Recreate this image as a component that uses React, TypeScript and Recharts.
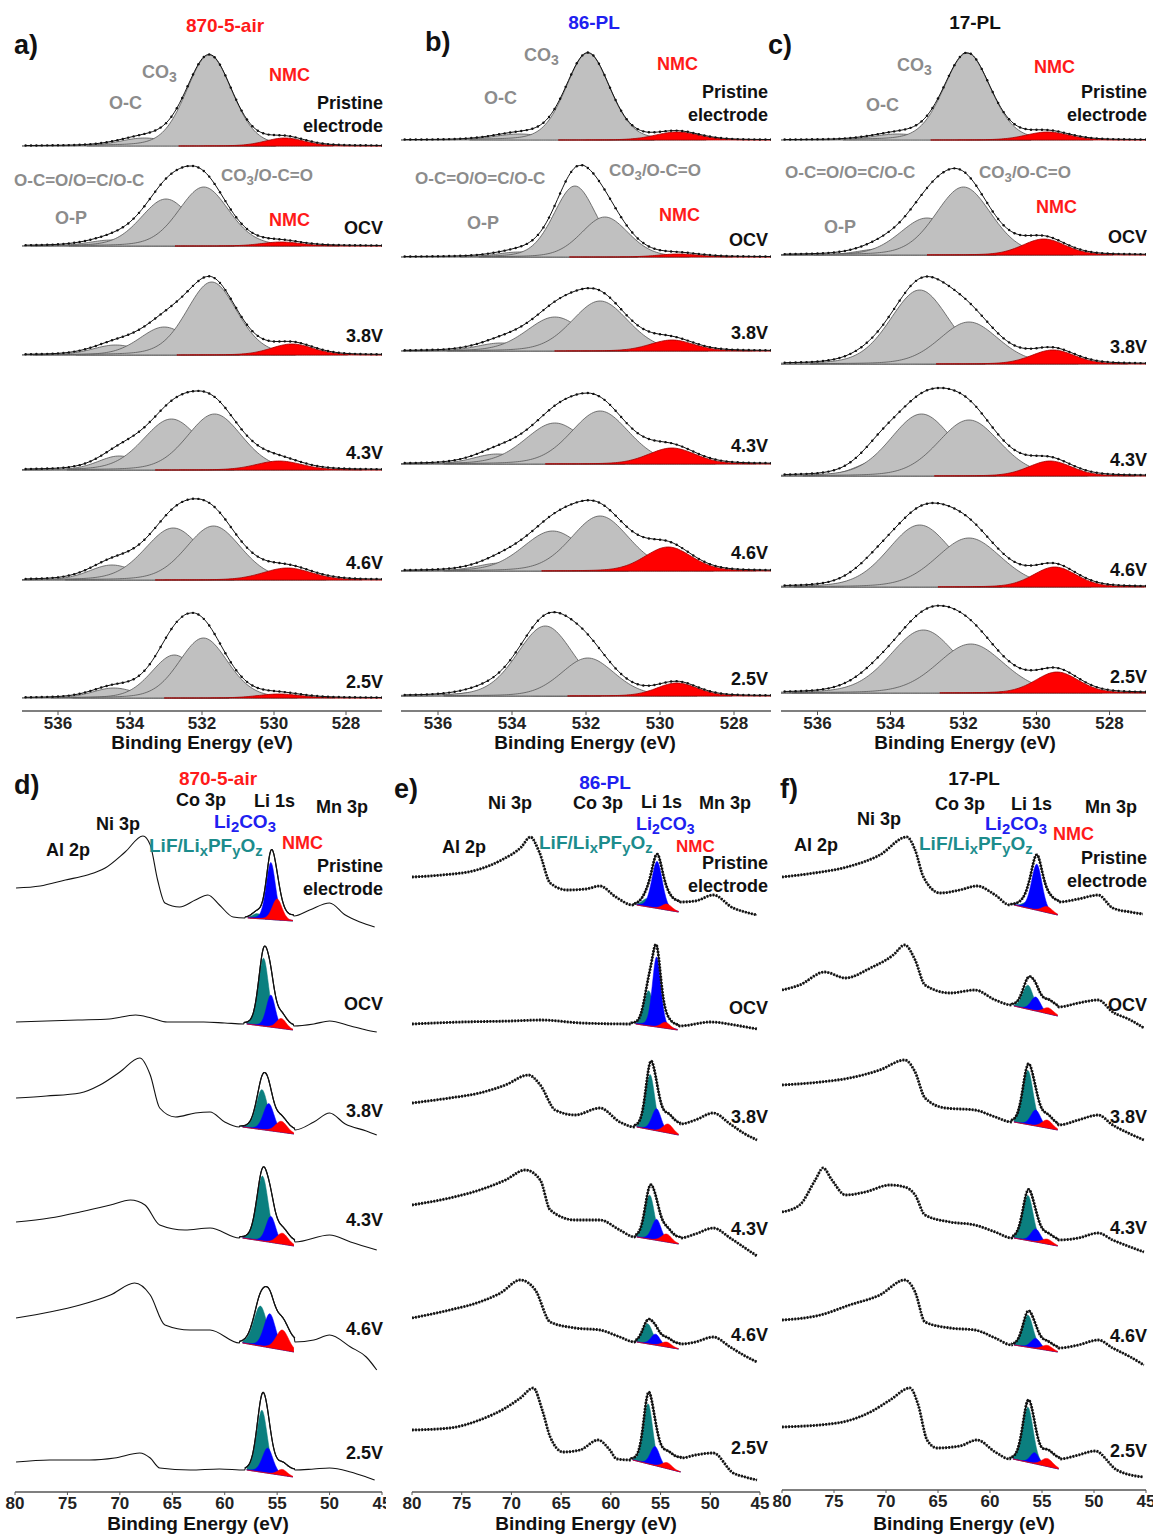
import React from 'react';
import { ComposedChart, Area, Line, XAxis, YAxis } from 'recharts';

const FONT = '"Liberation Sans", Arial, Helvetica, sans-serif';
const GREY = '#c0c0c0';
const RED = '#ff0000';
const TEAL = '#0b7f7f';
const BLUE = '#0000ff';
const TXT_GREY = '#8c8c8c';
const TXT_RED = '#ff1a1a';
const TXT_BLUE = '#2020f0';
const TXT_TEAL = '#1c8c8c';

// ---------------- O 1s (a–c) ----------------
const O1S_TICKS = [536, 534, 532, 530, 528];
const O1S_DOMAIN: [number, number] = [527, 537];
const STATE_LABELS = ['OCV', '3.8V', '4.3V', '4.6V', '2.5V'];

// component: [centre (eV), height, FWHM (eV), kind] kind g = grey, r = NMC
type Comp = [number, number, number, 'g' | 'r'];

const A_OFFSETS = [565, 465, 356, 241, 131, 13];
const A_COMPS: Comp[][] = [
  [[533.6, 8, 1.6, 'g'], [531.8, 91, 1.5, 'g'], [529.7, 8, 1.3, 'r']],
  [[534.5, 6, 1.5, 'g'], [533.0, 47, 1.65, 'g'], [531.95, 59, 1.65, 'g'], [529.8, 4, 1.3, 'r']],
  [[534.4, 10, 1.5, 'g'], [533.05, 28, 1.6, 'g'], [531.73, 73, 1.65, 'g'], [529.5, 11, 1.4, 'r']],
  [[534.3, 14, 1.4, 'g'], [532.85, 51, 1.85, 'g'], [531.65, 56, 1.8, 'g'], [529.86, 9, 1.5, 'r']],
  [[534.5, 15, 1.5, 'g'], [532.8, 52, 1.85, 'g'], [531.68, 54, 1.8, 'g'], [529.63, 12, 1.6, 'r']],
  [[534.45, 10, 1.4, 'g'], [532.77, 43, 1.5, 'g'], [531.96, 60, 1.6, 'g'], [529.86, 4, 1.4, 'r']],
];

const B_OFFSETS = [571, 454, 360, 247, 140, 15];
const B_COMPS: Comp[][] = [
  [[533.8, 6, 1.6, 'g'], [531.95, 87, 1.4, 'g'], [529.54, 8, 1.4, 'r']],
  [[533.8, 5, 1.4, 'g'], [532.3, 71, 1.35, 'g'], [531.49, 40, 1.5, 'g'], [529.5, 3, 1.3, 'r']],
  [[534.3, 8, 1.5, 'g'], [532.84, 34, 1.8, 'g'], [531.62, 50, 1.8, 'g'], [529.68, 11, 1.4, 'r']],
  [[534.4, 10, 1.5, 'g'], [532.84, 41, 1.9, 'g'], [531.62, 53, 1.85, 'g'], [529.68, 16, 1.5, 'r']],
  [[534.3, 8, 1.5, 'g'], [532.9, 40, 1.9, 'g'], [531.62, 55, 1.85, 'g'], [529.78, 24, 1.5, 'r']],
  [[534.8, 4, 1.4, 'g'], [533.1, 70, 1.8, 'g'], [531.95, 38, 1.7, 'g'], [529.54, 13, 1.3, 'r']],
];

const C_OFFSETS = [571, 456, 347, 235, 124, 18];
const C_COMPS: Comp[][] = [
  [[533.8, 6, 1.6, 'g'], [531.9, 87, 1.5, 'g'], [529.7, 8, 1.4, 'r']],
  [[534.3, 6, 1.4, 'g'], [533.0, 37, 1.75, 'g'], [532.0, 68, 1.8, 'g'], [529.8, 16, 1.4, 'r']],
  [[534.6, 4, 1.4, 'g'], [533.2, 74, 1.9, 'g'], [531.85, 42, 1.9, 'g'], [529.55, 14, 1.4, 'r']],
  [[534.3, 16, 1.4, 'g'], [533.15, 62, 2.0, 'g'], [531.85, 56, 2.0, 'g'], [529.63, 15, 1.4, 'r']],
  [[534.4, 12, 1.5, 'g'], [533.2, 62, 2.05, 'g'], [531.85, 49, 2.1, 'g'], [529.5, 20, 1.4, 'r']],
  [[534.4, 8, 1.5, 'g'], [533.1, 63, 2.15, 'g'], [531.8, 49, 2.15, 'g'], [529.44, 21, 1.4, 'r']],
];

// ---------------- Li 1s / TM 3p (d–f) ----------------
const LI_TICKS = [80, 75, 70, 65, 60, 55, 50, 45];
const LI_DOMAIN: [number, number] = [45, 80];

type Knot = [number, number]; // [BE, intensity]
type LiComp = [number, number, number]; // [centre, height, FWHM]; order: LiF/LixPFyOz, Li2CO3, NMC
type Base = [number, number, number, number]; // [BE left, I left, BE right, I right]

const D_TRACES: Knot[][] = [
  [[79.9, 604], [77.6, 606], [75.2, 612], [73.1, 617], [71.4, 624], [69.5, 640], [67.8, 656], [67.1, 647], [66.4, 612], [65.7, 589], [64.3, 585], [62.8, 592], [61.6, 597], [60.5, 587], [59.2, 575], [58.1, 574],
    [53.4, 576], [51.9, 582], [50.0, 589], [48.5, 577], [47.1, 570], [45.7, 565]],
  [[79.9, 470], [77, 471], [74, 472], [71, 473], [68.5, 477], [67, 474], [65.5, 470], [62, 470], [60, 469], [58.2, 468],
    [53.4, 466], [51.5, 468], [50, 471], [48, 466], [46.5, 462], [45.5, 460]],
  [[79.9, 394], [77, 396], [73.8, 399], [71.9, 407], [70, 420], [68.1, 434], [67.1, 417], [66.2, 384], [64.7, 375], [62.8, 379], [61.4, 380], [60, 370], [58.6, 365],
    [53.3, 362], [51.5, 370], [50, 379], [48.5, 368], [46.5, 361], [45.5, 357]],
  [[79.9, 270], [76.7, 274], [73.8, 280], [70.9, 287], [69, 292], [67.6, 287], [66.2, 267], [63.8, 262], [61.4, 264], [58.6, 254],
    [53.3, 250], [50, 257], [48, 250], [45.5, 242]],
  [[79.9, 174], [76.7, 180], [73.8, 187], [70.9, 197], [68.6, 209], [67.1, 197], [65.7, 167], [63.3, 162], [61.4, 162], [58.6, 149],
    [53.3, 150], [51.5, 152], [50, 157], [48, 145], [46.5, 135], [45.5, 122]],
  [[79.9, 30], [76.7, 32], [72.9, 32], [70.5, 34], [68.1, 39], [67.1, 34], [66.2, 24], [63.3, 22], [60.5, 23], [58.1, 22],
    [53.3, 22], [51.5, 23], [50, 24], [48, 20], [46.5, 15], [45.7, 12]],
];
const D_BASES: Base[] = [
  [57.8, 574, 53.5, 571], [57.9, 468, 53.5, 462], [58.3, 365, 53.4, 358],
  [58.3, 254, 53.4, 246], [58.3, 149, 53.4, 140], [57.9, 22, 53.5, 15],
];
const D_COMPS: LiComp[][] = [
  [[56.9, 5, 1.1], [55.6, 57, 1.05], [55.0, 21, 1.1]],
  [[56.3, 68, 1.15], [55.6, 32, 1.0], [54.6, 10, 1.1]],
  [[56.45, 40, 1.3], [55.8, 27, 1.2], [54.6, 11, 1.3]],
  [[56.4, 65, 1.3], [55.6, 26, 1.1], [54.5, 11, 1.3]],
  [[56.6, 40, 1.5], [55.7, 34, 1.3], [54.5, 20, 1.4]],
  [[56.45, 62, 1.2], [55.9, 25, 1.2], [54.5, 6, 1.1]],
];

const E_TRACES: Knot[][] = [
  [[80, 615], [77, 617], [73.5, 622], [71, 632], [69, 645], [68.1, 655], [67.2, 640], [66.1, 609], [64.4, 602], [62.5, 603], [61.1, 606], [59.5, 595], [57.8, 587],
    [53.0, 590], [51.5, 591], [49.7, 597], [47.7, 584], [46.5, 580], [45.3, 577]],
  [[80, 468], [75, 470], [70, 471], [67, 472], [63, 469], [58, 468],
    [53.1, 466], [50, 470], [47, 466], [45.3, 463]],
  [[80, 389], [76.2, 394], [73.2, 399], [70.6, 407], [68.3, 417], [67.1, 407], [65.6, 382], [63.6, 377], [61.1, 384], [59.1, 370], [57.6, 365],
    [53.0, 368], [51.5, 372], [49.7, 379], [48, 368], [46.5, 358], [45.3, 352]],
  [[80, 287], [76.2, 294], [73.2, 302], [70.6, 312], [68.6, 322], [67.1, 312], [66.1, 282], [63.6, 272], [61.1, 272], [59.1, 262], [57.6, 255],
    [53.0, 254], [51.5, 258], [49.7, 264], [48, 254], [46.5, 244], [45.3, 236]],
  [[80, 174], [76.2, 182], [73.2, 190], [71.1, 199], [69.1, 212], [67.6, 202], [66.1, 170], [63.6, 164], [61.1, 162], [59.1, 155], [57.6, 150],
    [53.0, 148], [51.5, 150], [49.7, 155], [48, 145], [46.5, 136], [45.3, 130]],
  [[80, 62], [76.2, 64], [73.2, 72], [70.6, 84], [69.1, 94], [67.8, 104], [66.9, 82], [66.1, 55], [64.8, 40], [63.1, 42], [61.3, 52], [60.1, 42], [59.4, 33], [58.0, 32],
    [52.9, 34], [51.5, 37], [49.7, 39], [47.7, 19], [46.5, 15], [45.3, 12]],
];
const E_BASES: Base[] = [
  [57.4, 587, 53.2, 580], [57.5, 468, 53.3, 462], [57.4, 365, 53.2, 357],
  [57.4, 255, 53.2, 248], [57.4, 150, 53.2, 143], [57.8, 32, 53.0, 20],
];
const E_COMPS: LiComp[][] = [
  [[56.35, 8, 1.2], [55.35, 47, 1.25], [54.35, 6, 1.2]],
  [[56.2, 35, 1.1], [55.4, 70, 1.0], [54.5, 6, 1.1]],
  [[56.05, 55, 1.1], [55.4, 22, 1.1], [54.25, 9, 1.2]],
  [[56.1, 44, 1.15], [55.4, 21, 1.1], [54.4, 8, 1.2]],
  [[56.3, 20, 1.2], [55.5, 11, 1.1], [54.4, 5, 1.2]],
  [[56.25, 60, 1.1], [55.55, 19, 1.1], [54.35, 6, 1.2]],
];

const F_TRACES: Knot[][] = [
  [[80, 613], [76.9, 617], [73.75, 623], [70.6, 635], [68.0, 653], [67.2, 640], [66.4, 613], [64.8, 597], [62.9, 600], [61.25, 604], [59.5, 595], [58.1, 585],
    [53.4, 588], [51.5, 591], [49.6, 595], [48.2, 582], [46.5, 578], [45.3, 576]],
  [[80, 500], [78.3, 505], [75.9, 518], [73.9, 512], [71.5, 522], [69.3, 535], [68.2, 545], [67.2, 530], [66.25, 505], [63.85, 497], [61.45, 500], [59.5, 490], [57.9, 485],
    [53.4, 483], [51.5, 487], [49.6, 490], [48.2, 478], [46.5, 470], [45.2, 462]],
  [[80, 405], [76.3, 408], [73.5, 412], [70.6, 420], [68.2, 430], [67.2, 418], [66.25, 392], [64.3, 382], [61.45, 380], [59.5, 373], [57.9, 368],
    [53.4, 365], [51.5, 370], [49.6, 375], [48.2, 365], [46.5, 356], [45.2, 350]],
  [[80, 278], [78.3, 285], [76.8, 310], [76.05, 322], [75.2, 310], [73.9, 295], [72, 298], [69.6, 305], [68.2, 303], [67.2, 295], [66.25, 275], [63.85, 268], [61.45, 265], [59.5, 258], [57.9, 252],
    [53.4, 250], [51.5, 252], [49.6, 257], [48.2, 250], [46.5, 243], [45.2, 238]],
  [[80, 170], [76.3, 175], [73.5, 185], [70.6, 195], [68.2, 210], [67.2, 198], [66.25, 168], [63.85, 162], [61.45, 160], [59.5, 152], [57.9, 145],
    [53.4, 142], [51.5, 145], [49.6, 150], [48.2, 142], [46.5, 133], [45.2, 125]],
  [[80, 63], [74.7, 67], [71.5, 78], [69.6, 90], [67.7, 102], [66.9, 85], [66.05, 50], [65.1, 42], [62.9, 44], [61.25, 50], [59.5, 38], [58.1, 31],
    [53.3, 31], [51.5, 35], [49.9, 39], [47.8, 20], [45.3, 13]],
];
const F_BASES: Base[] = [
  [57.7, 585, 53.5, 575], [57.7, 484, 53.5, 474], [57.7, 368, 53.5, 360],
  [57.7, 252, 53.5, 244], [57.7, 145, 53.5, 138], [57.8, 31, 53.4, 21],
];
const F_COMPS: LiComp[][] = [
  [[56.35, 6, 1.2], [55.5, 46, 1.2], [54.5, 6, 1.2]],
  [[56.35, 24, 1.2], [55.6, 14, 1.1], [54.4, 6, 1.2]],
  [[56.35, 54, 1.2], [55.6, 16, 1.1], [54.5, 8, 1.2]],
  [[56.35, 45, 1.2], [55.6, 13, 1.1], [54.5, 5, 1.2]],
  [[56.35, 32, 1.2], [55.6, 10, 1.1], [54.5, 5, 1.2]],
  [[56.35, 55, 1.2], [55.7, 11, 1.0], [54.5, 8, 1.3]],
];

// ---------------- helpers ----------------
const range = (a: number, b: number, s: number) => {
  const out: number[] = [];
  for (let x = a; x <= b + 1e-9; x += s) out.push(+x.toFixed(3));
  return out;
};
// Gaussian–Lorentzian (GL20) line shape of a fitted component
const gl = (x: number, c: number, h: number, w: number) => {
  const r = (4 * (x - c) * (x - c)) / (w * w);
  return h * (0.8 * Math.exp(-Math.LN2 * r) + 0.2 / (1 + r));
};

const tickStyle = { fontSize: 17, fontWeight: 700, fill: '#222', fontFamily: FONT };

function O1sChart({ left, width, offsets, comps }: { left: number; width: number; offsets: number[]; comps: Comp[][] }) {
  const plotH = 681;
  const fine = range(527, 537, 0.05);
  const coarse = range(527, 537, 0.15);
  const items: React.ReactNode[] = [];
  offsets.forEach((off, i) => {
    const cs = comps[i];
    cs.forEach((c, j) => {
      const [ce, h, w, kind] = c;
      const data = fine
        .filter((x) => Math.abs(x - ce) <= 2.3 * w)
        .map((x) => ({ x, v: [off, off + gl(x, ce, h, w)] }));
      items.push(
        <Area
          key={`c${i}-${j}`}
          data={data}
          dataKey="v"
          type="monotone"
          fill={kind === 'g' ? GREY : RED}
          fillOpacity={1}
          stroke={kind === 'g' ? '#555' : '#a00000'}
          strokeWidth={0.8}
          dot={false}
          activeDot={false}
          isAnimationActive={false}
        />
      );
    });
    const env = coarse.map((x) => ({ x, y: off + cs.reduce((s, c) => s + gl(x, c[0], c[1], c[2]), 0) }));
    items.push(
      <Line
        key={`e${i}`}
        data={env}
        dataKey="y"
        type="monotone"
        stroke="#111"
        strokeWidth={1}
        dot={{ r: 1.2, fill: '#111', stroke: 'none' }}
        activeDot={false}
        isAnimationActive={false}
      />
    );
  });
  return (
    <div style={{ position: 'absolute', left, top: 30 }}>
      <ComposedChart width={width} height={plotH + 30} margin={{ top: 0, right: 0, bottom: 0, left: 0 }}>
        <XAxis
          type="number"
          dataKey="x"
          domain={O1S_DOMAIN}
          reversed
          ticks={O1S_TICKS}
          interval={0}
          allowDataOverflow
          tickSize={4}
          height={30}
          axisLine={{ stroke: '#555', strokeWidth: 1.5 }}
          tickLine={{ stroke: '#555' }}
          tick={tickStyle}
        />
        <YAxis type="number" hide domain={[0, plotH]} allowDataOverflow />
        {items}
      </ComposedChart>
    </div>
  );
}

function LiChart({
  left, width, mLeft, mRight, plotH, traces, bases, comps, dotted,
}: {
  left: number; width: number; mLeft: number; mRight: number; plotH: number;
  traces: Knot[][]; bases: Base[]; comps: LiComp[][]; dotted: boolean;
}) {
  const items: React.ReactNode[] = [];
  const colors = [TEAL, BLUE, RED];
  traces.forEach((knots, i) => {
    const [bl, il, br, ir] = bases[i];
    // measured trace on either side of the fitted Li 1s region
    const leftK = knots.filter((k) => k[0] >= bl);
    const rightK = knots.filter((k) => k[0] <= br);
    const cb = (x: number) => il + ((ir - il) * (x - bl)) / (br - bl);
    const cs = comps[i];
    const grid = range(br, bl, 0.05);
    cs.forEach((c, j) => {
      const data = grid.map((x) => {
        const b = cb(x);
        return { x, v: [b, b + gl(x, c[0], c[1], c[2])] };
      });
      items.push(
        <Area
          key={`c${i}-${j}`}
          data={data}
          dataKey="v"
          type="monotone"
          fill={colors[j]}
          fillOpacity={1}
          stroke={colors[j]}
          strokeWidth={0.5}
          dot={false}
          activeDot={false}
          isAnimationActive={false}
        />
      );
    });
    const eL = leftK[leftK.length - 1];
    const eR = rightK[0];
    const envGrid = range(eR[0], eL[0], 0.08).reverse();
    const env = envGrid.map((x) => {
      const b = eL[1] + ((eR[1] - eL[1]) * (x - eL[0])) / (eR[0] - eL[0]);
      return { x, y: b + cs.reduce((s, c) => s + gl(x, c[0], c[1], c[2]), 0) };
    });
    const full = [
      ...leftK.map(([x, y]) => ({ x, y })),
      ...env.filter((p) => p.x < eL[0] && p.x > eR[0]),
      ...rightK.map(([x, y]) => ({ x, y })),
    ];
    items.push(
      <Line
        key={`fit${i}`}
        data={env}
        dataKey="y"
        type="monotone"
        stroke="#111"
        strokeWidth={1.2}
        dot={false}
        activeDot={false}
        isAnimationActive={false}
      />
    );
    items.push(
      <Line
        key={`t${i}`}
        data={full}
        dataKey="y"
        type="monotone"
        stroke="#111"
        strokeWidth={dotted ? 2.8 : 1.1}
        strokeDasharray={dotted ? '1.8 1.3' : undefined}
        dot={false}
        activeDot={false}
        isAnimationActive={false}
      />
    );
    if (dotted) {
      items.push(
        <Line
          key={`tl${i}`}
          data={full}
          dataKey="y"
          type="monotone"
          stroke="#111"
          strokeWidth={0.8}
          dot={false}
          activeDot={false}
          isAnimationActive={false}
        />
      );
    }
  });
  return (
    <div style={{ position: 'absolute', left, top: 780 }}>
      <ComposedChart width={width} height={plotH + 30} margin={{ top: 0, right: mRight, bottom: 0, left: mLeft }}>
        <XAxis
          type="number"
          dataKey="x"
          domain={LI_DOMAIN}
          reversed
          ticks={LI_TICKS}
          interval={0}
          allowDataOverflow
          tickSize={3}
          height={30}
          axisLine={{ stroke: '#555', strokeWidth: 1.5 }}
          tickLine={{ stroke: '#555' }}
          tick={tickStyle}
        />
        <YAxis type="number" hide domain={[0, plotH]} allowDataOverflow />
        {items}
      </ComposedChart>
    </div>
  );
}

// ---------------- text ----------------
type Anchor = 'start' | 'middle' | 'end';
const T = ({ x, y, c = '#111', s = 18, a = 'start', children }: { x: number; y: number; c?: string; s?: number; a?: Anchor; children: React.ReactNode }) => (
  <div
    style={{
      position: 'absolute',
      left: x,
      top: y,
      transform: `translate(${a === 'end' ? '-100%' : a === 'middle' ? '-50%' : '0'}, -50%)`,
      fontFamily: FONT,
      fontSize: s,
      fontWeight: 700,
      color: c,
      whiteSpace: 'nowrap',
      lineHeight: 1,
    }}
  >
    {children}
  </div>
);
const Sub = ({ children }: { children: React.ReactNode }) => (
  <span style={{ fontSize: '0.78em', position: 'relative', top: '0.28em' }}>{children}</span>
);
const CO3 = () => (<>CO<Sub>3</Sub></>);
const Li2CO3 = () => (<>Li<Sub>2</Sub>CO<Sub>3</Sub></>);
const LiF = () => (<>LiF/Li<Sub>x</Sub>PF<Sub>y</Sub>O<Sub>z</Sub></>);

function O1sLabels({ letter, lx, title, tc, tx, r, co3, oc, nmc1, ocl, co3b, op, nmc2, pri, volts, ax }: any) {
  return (
    <>
      <T x={lx} y={letter[1]} s={27}>{letter[0]}</T>
      <T x={tx[0]} y={tx[1]} c={tc} s={19} a="middle">{title}</T>
      <T x={co3[0]} y={co3[1]} c={TXT_GREY}><CO3 /></T>
      <T x={oc[0]} y={oc[1]} c={TXT_GREY}>O-C</T>
      <T x={nmc1[0]} y={nmc1[1]} c={TXT_RED}>NMC</T>
      <T x={r} y={pri} a="end">Pristine</T>
      <T x={r} y={pri + 23} a="end">electrode</T>
      <T x={ocl[0]} y={ocl[1]} c={TXT_GREY} s={17}>O-C=O/O=C/O-C</T>
      <T x={co3b[0]} y={co3b[1]} c={TXT_GREY} s={17}><CO3 />/O-C=O</T>
      <T x={op[0]} y={op[1]} c={TXT_GREY}>O-P</T>
      <T x={nmc2[0]} y={nmc2[1]} c={TXT_RED}>NMC</T>
      {STATE_LABELS.map((s, i) => (
        <T key={s} x={r} y={volts[i]} a="end">{s}</T>
      ))}
      <T x={ax} y={742} s={19} a="middle">Binding Energy (eV)</T>
    </>
  );
}

function LiLabels({ letter, title, tc, co, li, mn, ni, lc, al, lf, nmc, r, pri, volts, ax }: any) {
  return (
    <>
      <T x={letter[0]} y={letter[2]} s={27}>{letter[1]}</T>
      <T x={title[0]} y={title[1]} c={tc} s={19} a="middle">{title[2]}</T>
      <T x={co[0]} y={co[1]}>Co 3p</T>
      <T x={li[0]} y={li[1]}>Li 1s</T>
      <T x={mn[0]} y={mn[1]}>Mn 3p</T>
      <T x={ni[0]} y={ni[1]}>Ni 3p</T>
      <T x={lc[0]} y={lc[1]} c={TXT_BLUE} s={lc[2] || 19}><Li2CO3 /></T>
      <T x={al[0]} y={al[1]}>Al 2p</T>
      <T x={lf[0]} y={lf[1]} c={TXT_TEAL} s={19}><LiF /></T>
      <T x={nmc[0]} y={nmc[1]} c={TXT_RED} s={nmc[2] || 18}>NMC</T>
      <T x={r} y={pri} a="end">Pristine</T>
      <T x={r} y={pri + 23} a="end">electrode</T>
      {STATE_LABELS.map((s, i) => (
        <T key={s} x={r} y={volts[i]} a="end">{s}</T>
      ))}
      <T x={ax} y={1523} s={19} a="middle">Binding Energy (eV)</T>
    </>
  );
}

export default function App() {
  return (
    <div style={{ position: 'absolute', left: 0, top: 0, width: 1153, height: 1535, background: '#fff', overflow: 'hidden' }}>
      <O1sChart left={22} width={360} offsets={A_OFFSETS} comps={A_COMPS} />
      <O1sChart left={401} width={370} offsets={B_OFFSETS} comps={B_COMPS} />
      <O1sChart left={781} width={365} offsets={C_OFFSETS} comps={C_COMPS} />

      <LiChart left={0} width={386} mLeft={15} mRight={4} plotH={712} traces={D_TRACES} bases={D_BASES} comps={D_COMPS} dotted={false} />
      <LiChart left={392} width={388} mLeft={20} mRight={20} plotH={712} traces={E_TRACES} bases={E_BASES} comps={E_COMPS} dotted />
      <LiChart left={762} width={391} mLeft={20} mRight={7} plotH={710} traces={F_TRACES} bases={F_BASES} comps={F_COMPS} dotted />

      <O1sLabels letter={['a)', 45]} lx={14} title="870-5-air" tc={TXT_RED} tx={[225, 25]} r={383}
        co3={[142, 72]} oc={[109, 103]} nmc1={[269, 75]} ocl={[14, 180]} co3b={[221, 175]} op={[55, 218]} nmc2={[269, 220]}
        pri={103} volts={[228, 336, 453, 563, 682]} ax={202} />
      <O1sLabels letter={['b)', 42]} lx={425} title="86-PL" tc={TXT_BLUE} tx={[594, 22]} r={768}
        co3={[524, 55]} oc={[484, 98]} nmc1={[657, 64]} ocl={[415, 178]} co3b={[609, 170]} op={[467, 223]} nmc2={[659, 215]}
        pri={92} volts={[240, 333, 446, 553, 679]} ax={585} />
      <O1sLabels letter={['c)', 45]} lx={768} title="17-PL" tc="#111" tx={[975, 22]} r={1147}
        co3={[897, 65]} oc={[866, 105]} nmc1={[1034, 67]} ocl={[785, 172]} co3b={[979, 172]} op={[824, 227]} nmc2={[1036, 207]}
        pri={92} volts={[237, 347, 460, 570, 677]} ax={965} />

      <LiLabels letter={[14, 'd)', 785]} title={[218, 778, '870-5-air']} tc={TXT_RED}
        co={[176, 800]} li={[254, 801]} mn={[316, 807]} ni={[96, 824]} lc={[214, 821]} al={[46, 850]} lf={[149, 845]} nmc={[282, 843]}
        r={383} pri={866} volts={[1004, 1111, 1220, 1329, 1453]} ax={198} />
      <LiLabels letter={[394, 'e)', 789]} title={[605, 782, '86-PL']} tc={TXT_BLUE}
        co={[573, 803]} li={[641, 802]} mn={[699, 803]} ni={[488, 803]} lc={[636, 824, 18]} al={[442, 847]} lf={[539, 842]} nmc={[676, 846, 17]}
        r={768} pri={863} volts={[1008, 1117, 1229, 1335, 1448]} ax={586} />
      <LiLabels letter={[780, 'f)', 789]} title={[974, 778, '17-PL']} tc="#111"
        co={[935, 804]} li={[1011, 804]} mn={[1085, 807]} ni={[857, 819]} lc={[985, 823]} al={[794, 845]} lf={[919, 843]} nmc={[1053, 834]}
        r={1147} pri={858} volts={[1005, 1117, 1228, 1336, 1451]} ax={964} />
    </div>
  );
}
